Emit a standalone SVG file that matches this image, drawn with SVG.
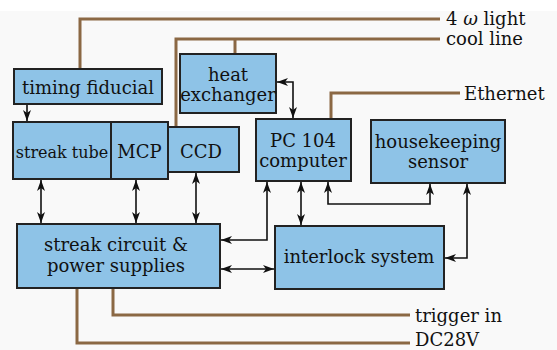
<svg xmlns="http://www.w3.org/2000/svg" width="557" height="350" viewBox="0 0 557 350">
<defs>
<style>
.box{fill:#8ec3e7;stroke:#222;stroke-width:2}
.t{font-family:"DejaVu Serif","Liberation Serif",serif;font-size:18px;fill:#111;text-anchor:middle}
.lbl{font-family:"DejaVu Serif","Liberation Serif",serif;font-size:18px;fill:#111}
.w{fill:none;stroke:#8b6844;stroke-width:3}
.c{fill:none;stroke:#111;stroke-width:1.6}
</style>
<marker id="ah" markerUnits="userSpaceOnUse" markerWidth="11" markerHeight="8" viewBox="0 0 11 8" refX="11" refY="4" orient="auto-start-reverse">
<path d="M0,0 L11,4 L0,8 L3,4 z" fill="#111"/>
</marker>
</defs>
<rect x="0" y="0" width="557" height="350" fill="#ffffff"/>
<rect x="0" y="11" width="557" height="339" fill="#f9f9f9"/>
<g id="wires">
<path class="w" d="M80,69 V19 H440"/>
<path class="w" d="M176,127 V39 H440"/>
<path class="w" d="M235,39 V54"/>
<path class="w" d="M331,119 V93 H460"/>
<path class="w" d="M113,288 V315 H410"/>
<path class="w" d="M77,288 V343 H410"/>
<text class="lbl" x="446" y="25">4 <tspan font-style="italic">ω</tspan> light</text>
<text class="lbl" x="446" y="45">cool line</text>
<text class="lbl" x="464" y="100">Ethernet</text>
<text class="lbl" x="415" y="322">trigger in</text>
<text class="lbl" x="415" y="346">DC28V</text>
</g>
<g id="connectors">
<path class="c" d="M27,105 V121" marker-end="url(#ah)"/>
<path class="c" d="M41,180 V223" marker-start="url(#ah)" marker-end="url(#ah)"/>
<path class="c" d="M136,180 V223" marker-start="url(#ah)" marker-end="url(#ah)"/>
<path class="c" d="M196,173 V223" marker-start="url(#ah)" marker-end="url(#ah)"/>
<path class="c" d="M277,82 H293 V118" marker-start="url(#ah)" marker-end="url(#ah)"/>
<path class="c" d="M267,182 V240 H221" marker-start="url(#ah)" marker-end="url(#ah)"/>
<path class="c" d="M301,182 V225" marker-start="url(#ah)" marker-end="url(#ah)"/>
<path class="c" d="M328,182 V204 H430 V184" marker-start="url(#ah)" marker-end="url(#ah)"/>
<path class="c" d="M467,184 V258 H445" marker-start="url(#ah)" marker-end="url(#ah)"/>
<path class="c" d="M221,269 H274" marker-start="url(#ah)" marker-end="url(#ah)"/>
</g>
<g id="timing-fiducial">
<rect class="box" x="14" y="69" width="148" height="35"/>
<text class="t" x="88" y="94">timing fiducial</text>
</g>
<g id="streak-tube">
<rect class="box" x="13" y="122" width="98" height="57"/>
<text class="t" x="62" y="158" style="font-size:16px">streak tube</text>
</g>
<g id="mcp">
<rect class="box" x="111" y="122" width="57" height="57"/>
<text class="t" x="139.5" y="158">MCP</text>
</g>
<g id="ccd">
<rect class="box" x="168" y="127" width="71" height="45"/>
<text class="t" x="201" y="158">CCD</text>
</g>
<g id="heat-exchanger">
<rect class="box" x="180" y="54" width="96" height="59"/>
<text class="t" x="228" y="81">heat</text>
<text class="t" x="228" y="101">exchanger</text>
</g>
<g id="pc104">
<rect class="box" x="256" y="119" width="95" height="62"/>
<text class="t" x="303" y="147">PC 104</text>
<text class="t" x="303" y="167">computer</text>
</g>
<g id="housekeeping-sensor">
<rect class="box" x="371" y="120" width="134" height="63"/>
<text class="t" x="438" y="148">housekeeping</text>
<text class="t" x="438" y="168">sensor</text>
</g>
<g id="streak-circuit">
<rect class="box" x="17" y="224" width="203" height="64"/>
<text class="t" x="116" y="251">streak circuit &amp;</text>
<text class="t" x="116" y="272">power supplies</text>
</g>
<g id="interlock-system">
<rect class="box" x="275" y="226" width="169" height="63"/>
<text class="t" x="359" y="263">interlock system</text>
</g>
</svg>
